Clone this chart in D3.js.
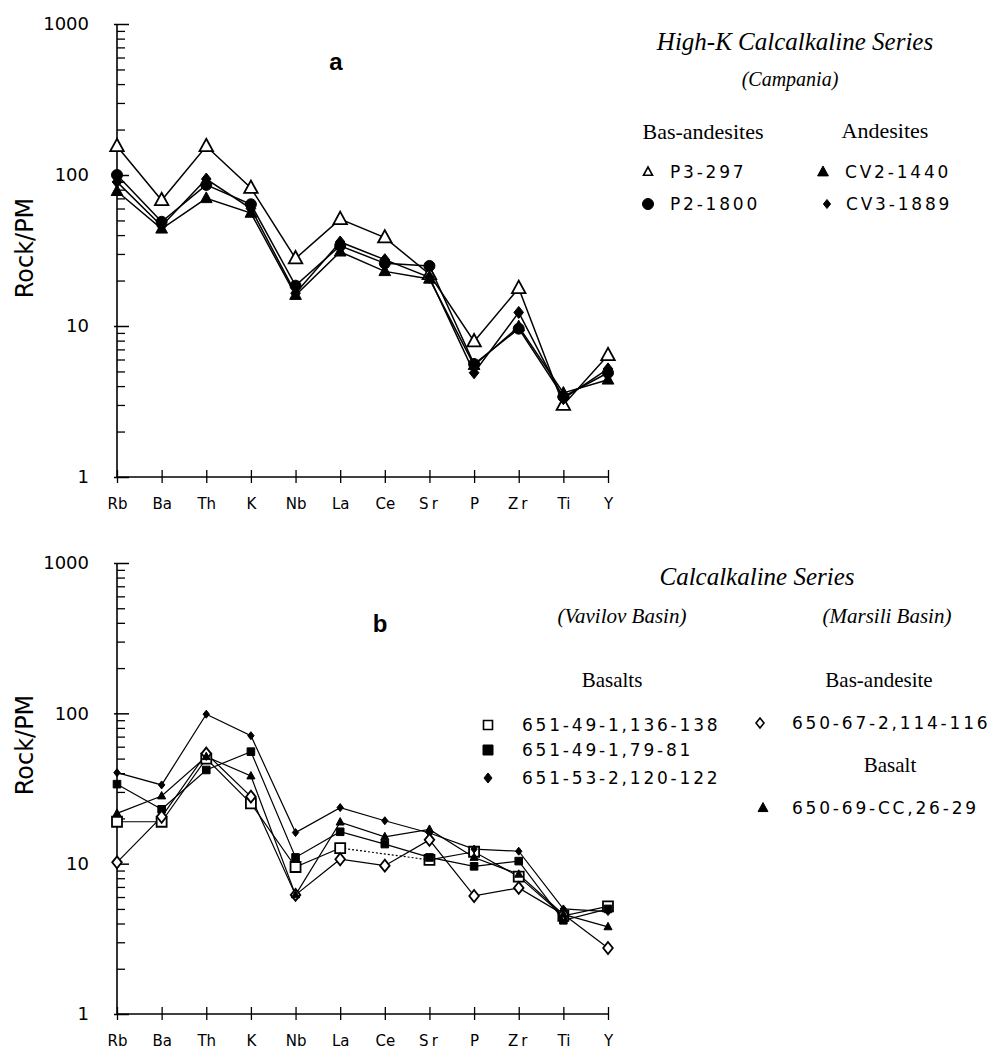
<!DOCTYPE html>
<html>
<head>
<meta charset="utf-8">
<script src="https://cdn.jsdelivr.net/npm/d3@7"></script>
<style>
  html, body { margin: 0; padding: 0; background: #fff; }
  svg { display: block; }
</style>
</head>
<body>
<svg id="chart" width="1007" height="1059"></svg>
<script>
// ---------- DATA ----------
const elements = ["Rb","Ba","Th","K","Nb","La","Ce","Sr","P","Zr","Ti","Y"];
const yTickLabels = [1, 10, 100, 1000];

// Panel a: High-K Calcalkaline Series (Campania)
const a_P3_297   = [155, 68, 155, 82, 28, 51, 38.5, 22, 7.9, 17.8, 3.0, 6.4];
const a_P2_1800  = [100, 49, 86, 64, 18.5, 34, 26, 25, 5.6, 9.6, 3.4, 4.9];
const a_CV2_1440 = [78, 44, 70, 56, 16, 31, 23, 20.5, 5.5, 9.9, 3.6, 4.4];
const a_CV3_1889 = [90, 46, 94, 60, 16.5, 36, 27.5, 21, 4.9, 12.3, 3.3, 5.2];

// Panel b: Calcalkaline Series (Vavilov / Marsili Basin)
const b_651_49_1_136 = [19, 19, 50, 25.2, 9.5, 12.7, null, 10.6, 12, 8.2, 4.5, 5.2];
const b_651_49_1_79  = [33.8, 23, 42, 55.6, 11, 16.3, 13.5, 11, 9.6, 10.4, 4.2, 5.0];
const b_651_53_2     = [40.3, 33.4, 98.7, 71, 16.1, 23.6, 19.3, 16, 12.5, 12.1, 5.0, 4.8];
const b_650_67_2     = [10.2, 20.5, 54, 27.9, 6.2, 10.7, 9.7, 14.4, 6.1, 6.9, 4.6, 2.75];
const b_650_69_CC    = [21.6, 28.2, 51.5, 38.3, 6.2, 18.9, 15.1, 16.9, 11, 8.5, 4.6, 3.8];

const seriesA = [
  {name: "P3-297",   values: a_P3_297,   shape: "triangle", fill: false, r: 7.5},
  {name: "P2-1800",  values: a_P2_1800,  shape: "circle",   fill: true,  r: 5.5},
  {name: "CV2-1440", values: a_CV2_1440, shape: "triangle", fill: true,  r: 6.5},
  {name: "CV3-1889", values: a_CV3_1889, shape: "diamond",  fill: true,  r: 6}
];
const seriesB = [
  {name: "651-49-1,136-138", values: b_651_49_1_136, shape: "square",   fill: false, r: 5},
  {name: "651-49-1,79-81",   values: b_651_49_1_79,  shape: "square",   fill: true,  r: 3.8},
  {name: "651-53-2,120-122", values: b_651_53_2,     shape: "diamond",  fill: true,  r: 4},
  {name: "650-67-2,114-116", values: b_650_67_2,     shape: "diamond",  fill: false, r: 6},
  {name: "650-69-CC,26-29",  values: b_650_69_CC,    shape: "triangle", fill: true,  r: 4.5}
];

// ---------- HELPERS ----------
function shapePath(shape, r) {
  if (shape === "triangle") {
    return `M0,${-r}L${r*0.9},${r*0.65}L${-r*0.9},${r*0.65}Z`;
  } else if (shape === "diamond") {
    return `M0,${-r}L${r*0.8},0L0,${r}L${-r*0.8},0Z`;
  } else if (shape === "square") {
    return `M${-r},${-r}H${r}V${r}H${-r}Z`;
  } else {
    return d3.symbol().type(d3.symbolCircle).size(Math.PI*r*r)();
  }
}

const svg = d3.select("#chart");

function drawPanel(cfg) {
  const x = d3.scalePoint().domain(elements).range([117, 608]);
  const y = d3.scaleLog().domain([1, 1000]).range([cfg.bottom, cfg.top]);
  const g = svg.append("g");

  // minor ticks (inward, right side)
  const minors = [];
  for (let d = 1; d < 1000; d *= 10) for (let k = 2; k <= 9; k++) minors.push(d*k);
  g.append("g").attr("transform", `translate(117,0)`)
    .call(d3.axisRight(y).tickValues(minors).tickSize(8).tickFormat(""))
    .call(s => s.select(".domain").remove())
    .call(s => s.selectAll("line").attr("stroke", "#000").attr("stroke-width", 1.3));
  // major ticks
  g.append("g").attr("transform", `translate(117,0)`)
    .call(d3.axisRight(y).tickValues(yTickLabels).tickSize(12).tickFormat(""))
    .call(s => s.select(".domain").remove())
    .call(s => s.selectAll("line").attr("stroke", "#000").attr("stroke-width", 1.5).attr("x1", -3));
  // labels
  g.append("g").attr("transform", `translate(117,0)`)
    .call(d3.axisLeft(y).tickValues(yTickLabels).tickSize(0).tickPadding(28).tickFormat(d3.format("d")))
    .call(s => s.select(".domain").remove())
    .call(s => s.selectAll("text").style("font-family", "DejaVu Sans").style("font-size", "18px").attr("fill", "#000"));
  // y axis line
  g.append("line").attr("x1", 117).attr("x2", 117).attr("y1", y(1000)).attr("y2", y(1))
    .attr("stroke", "#000").attr("stroke-width", 1.6);

  // x axis
  g.append("g").attr("transform", `translate(0,${cfg.bottom})`)
    .call(d3.axisBottom(x).tickSize(6).tickPadding(15))
    .call(s => s.select(".domain").attr("stroke", "#000").attr("stroke-width", 1.5).attr("d", `M117,0H608`))
    .call(s => s.selectAll("line").attr("stroke", "#000").attr("stroke-width", 1.3).attr("y1", -7).attr("y2", 6))
    .call(s => s.selectAll("text").style("font-family", "DejaVu Sans").style("font-size", "15px").attr("fill", "#000")
       .style("letter-spacing", d => (d === "Sr" || d === "Zr") ? "3px" : "0px"));

  // Rock/PM
  g.append("text").attr("transform", `translate(33,${cfg.labelY}) rotate(-90)`)
    .attr("text-anchor", "middle").style("font-family", "DejaVu Sans").style("font-size", "24px")
    .text("Rock/PM");

  // panel letter
  g.append("text").attr("x", cfg.letterX).attr("y", cfg.letterY).attr("text-anchor", "middle")
    .style("font-family", "Liberation Sans, Arial, sans-serif").style("font-weight", "bold").style("font-size", "24px")
    .text(cfg.letter);

  // lines
  const line = d3.line().defined(d => d.v != null).x(d => x(d.e)).y(d => y(d.v));
  cfg.series.forEach(s => {
    const pts = elements.map((e, i) => ({e, v: s.values[i]}));
    g.append("path").attr("d", line(pts)).attr("fill", "none").attr("stroke", "#000").attr("stroke-width", cfg.lw);
    // dotted bridge over missing values
    const valid = pts.filter(p => p.v != null);
    for (let i = 1; i < valid.length; i++) {
      const ia = elements.indexOf(valid[i-1].e), ib = elements.indexOf(valid[i].e);
      if (ib - ia > 1) {
        g.append("line").attr("x1", x(valid[i-1].e)).attr("y1", y(valid[i-1].v))
          .attr("x2", x(valid[i].e)).attr("y2", y(valid[i].v))
          .attr("stroke", "#000").attr("stroke-width", 1.2).attr("stroke-dasharray", "2,2");
      }
    }
  });
  // markers
  cfg.series.forEach(s => {
    const pts = elements.map((e, i) => ({e, v: s.values[i]})).filter(p => p.v != null);
    g.append("g").selectAll("path").data(pts).join("path")
      .attr("transform", d => `translate(${x(d.e)},${y(d.v)})`)
      .attr("d", shapePath(s.shape, s.r))
      .attr("fill", s.fill ? "#000" : "#fff")
      .attr("stroke", "#000").attr("stroke-width", s.fill ? 1 : 1.8);
  });
}

drawPanel({top: 24, bottom: 477, labelY: 248, letter: "a", letterX: 336, letterY: 70, series: seriesA, lw: 1.5});
drawPanel({top: 563, bottom: 1014, labelY: 745, letter: "b", letterX: 380, letterY: 632, series: seriesB, lw: 1.2});

// ---------- LEGENDS ----------
function serifText(x, y, t, size, italic, anchor) {
  svg.append("text").attr("x", x).attr("y", y).attr("text-anchor", anchor || "middle")
    .style("font-family", "Liberation Serif, Times New Roman, serif")
    .style("font-style", italic ? "italic" : "normal").style("font-size", size + "px").text(t);
}
function codeEntry(mx, my, tx, s, size) {
  svg.append("path").attr("transform", `translate(${mx},${my})`).attr("d", shapePath(s.shape, size))
    .attr("fill", s.fill ? "#000" : "#fff").attr("stroke", "#000").attr("stroke-width", s.fill ? 1 : 1.6);
  svg.append("text").attr("x", tx).attr("y", my + 6)
    .style("font-family", "DejaVu Sans").style("font-size", "17px").style("letter-spacing", "2.8px").text(s.name);
}

// Panel a legend
serifText(795, 50, "High-K Calcalkaline Series", 25, true);
serifText(790, 86, "(Campania)", 20, true);
serifText(703, 139, "Bas-andesites", 22, false);
serifText(885, 138, "Andesites", 22, false);
codeEntry(648, 172, 670, seriesA[0], 5);
codeEntry(648, 204, 670, seriesA[1], 5.5);
codeEntry(823, 172, 845, seriesA[2], 6);
codeEntry(827, 204, 846, seriesA[3], 4.5);

// Panel b legend
serifText(757, 585, "Calcalkaline Series", 25, true);
serifText(622, 623, "(Vavilov Basin)", 21, true);
serifText(887, 623, "(Marsili Basin)", 21, true);
serifText(612, 687, "Basalts", 21, false);
serifText(879, 687, "Bas-andesite", 21, false);
serifText(890, 772, "Basalt", 21, false);
codeEntry(488, 725, 522, seriesB[0], 4.5);
codeEntry(488, 750, 522, seriesB[1], 5);
codeEntry(488, 778, 522, seriesB[2], 5);
codeEntry(760, 723, 792, seriesB[3], 5);
codeEntry(763, 808, 792, seriesB[4], 5.5);
</script>
</body>
</html>
